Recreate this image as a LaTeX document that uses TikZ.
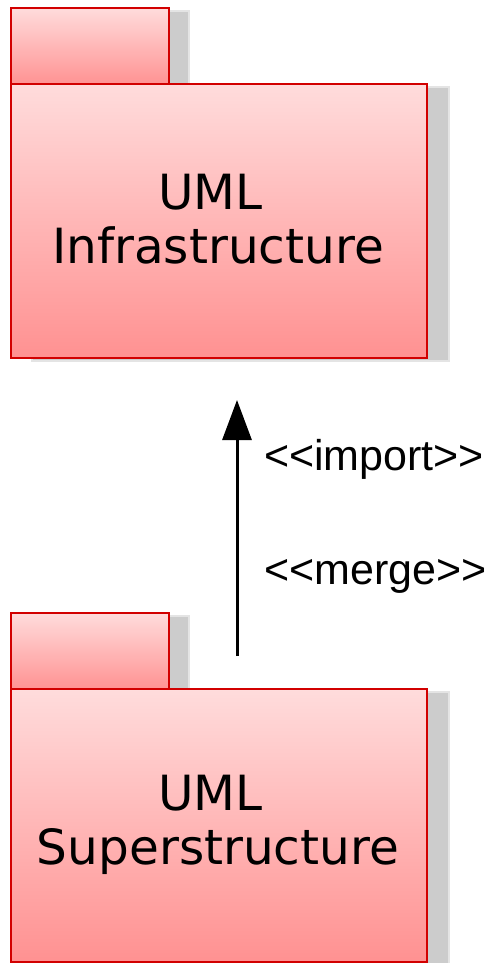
\documentclass[tikz,border=0pt]{standalone}
\usepackage{fontspec}
\setmainfont{DejaVu Sans}
\newfontfamily\labelfont{Liberation Sans}
\usetikzlibrary{arrows.meta}
\definecolor{pkgtop}{RGB}{255,220,220}
\definecolor{pkgbot}{RGB}{255,145,145}
\definecolor{pkgline}{RGB}{210,0,0}
\definecolor{shadowcol}{RGB}{204,204,204}
\definecolor{shadowedge}{RGB}{228,228,228}
\tikzset{
  x=1pt, y=-1pt,
  pkgpart/.style={draw=pkgline, line width=1.6pt, top color=pkgtop, bottom color=pkgbot,
    rectangle, inner sep=0pt, anchor=north west},
  shade box/.style={fill=shadowcol, draw=shadowedge, line width=2pt},
  pkgtext/.style={font=\fontsize{48.5}{54}\selectfont, align=center, text=black},
  stereo/.style={font=\labelfont\fontsize{43}{48}\selectfont, anchor=base west, inner sep=0pt},
  dep/.style={line width=3pt, -{Triangle[length=40pt,width=29pt]}}
}
\begin{document}
\begin{tikzpicture}
\useasboundingbox (0,0) rectangle (490,963);
\fill[white] (0,0) rectangle (490,963);

% shadows of the two packages
\draw[shade box] (32,11) rectangle (189,86);
\draw[shade box] (32,87) rectangle (449,361);
\draw[shade box] (32,616) rectangle (189,691);
\draw[shade box] (32,692) rectangle (449,966);

% upper package: UML Infrastructure
\node[pkgpart, minimum width=158pt, minimum height=78pt] (infratab) at (10,7) {};
\node[pkgpart, minimum width=416pt, minimum height=274pt] (infra) at (10,83) {};
\node[pkgtext] (infratext) at (218,219) {UML\rule{15pt}{0pt}\\Infrastructure};

% lower package: UML Superstructure
\node[pkgpart, minimum width=158pt, minimum height=78pt] (supertab) at (10,612) {};
\node[pkgpart, minimum width=416pt, minimum height=273pt] (super) at (10,688) {};
\node[pkgtext] (supertext) at (218,825) {UML\rule{15pt}{0pt}\\Superstructure};

% dependency arrow between the packages
\coordinate (depstart) at (237,656);
\coordinate (depend) at (237,400);
\draw[dep] (depstart) -- (depend);
\node[stereo] (importlbl) at (264,470) {<<import>>};
\node[stereo] (mergelbl) at (264,584) {<<merge>>};
\end{tikzpicture}
\end{document}
